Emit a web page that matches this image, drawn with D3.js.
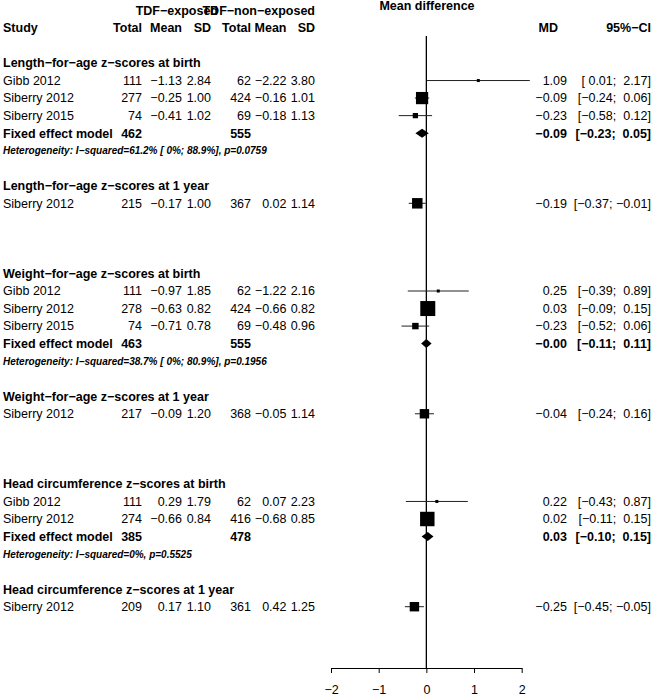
<!DOCTYPE html>
<html><head><meta charset="utf-8">
<script src="https://cdn.jsdelivr.net/npm/d3@7"></script>
<style>
body{margin:0;background:#fff;}
svg text{font-family:"Liberation Sans",Arial,Helvetica,sans-serif;fill:#000;}
</style></head><body>
<svg id="chart" width="653" height="696"></svg>
<script>
const groupTitles = [
  "Length\u2212for\u2212age z\u2212scores at birth",
  "Length\u2212for\u2212age z\u2212scores at 1 year",
  "Weight\u2212for\u2212age z\u2212scores at birth",
  "Weight\u2212for\u2212age z\u2212scores at 1 year",
  "Head circumference z\u2212scores at birth",
  "Head circumference z\u2212scores at 1 year"
];
const studyGroup = [0,0,0,1,2,2,2,3,4,4,5];
const studyNames = ["Gibb 2012","Siberry 2012","Siberry 2015","Siberry 2012","Gibb 2012","Siberry 2012","Siberry 2015","Siberry 2012","Gibb 2012","Siberry 2012","Siberry 2012"];
const expTotal = [111,277,74,215,111,278,74,217,111,274,209];
const expMean  = [-1.13,-0.25,-0.41,-0.17,-0.97,-0.63,-0.71,-0.09,0.29,-0.66,0.17];
const expSD    = [2.84,1.00,1.02,1.00,1.85,0.82,0.78,1.20,1.79,0.84,1.10];
const nonTotal = [62,424,69,367,62,424,69,368,62,416,361];
const nonMean  = [-2.22,-0.16,-0.18,0.02,-1.22,-0.66,-0.48,-0.05,0.07,-0.68,0.42];
const nonSD    = [3.80,1.01,1.13,1.14,2.16,0.82,0.96,1.14,2.23,0.85,1.25];
const studyMD    = [1.09,-0.09,-0.23,-0.19,0.25,0.03,-0.23,-0.04,0.22,0.02,-0.25];
const studyLower = [0.01,-0.24,-0.58,-0.37,-0.39,-0.09,-0.52,-0.24,-0.43,-0.11,-0.45];
const studyUpper = [2.17,0.06,0.12,-0.01,0.89,0.15,0.06,0.16,0.87,0.15,-0.05];
const pooledGroup    = [0,2,4];
const pooledExpTotal = [462,463,385];
const pooledNonTotal = [555,555,478];
const pooledMD    = [-0.09,-0.00,0.03];
const pooledLower = [-0.23,-0.11,-0.10];
const pooledUpper = [0.05,0.11,0.15];
const heterogeneity = [
  "Heterogeneity: I\u2212squared=61.2% [ 0%; 88.9%], p=0.0759",
  "Heterogeneity: I\u2212squared=38.7% [ 0%; 80.9%], p=0.1956",
  "Heterogeneity: I\u2212squared=0%, p=0.5525"
];
const axisTicks = [-2,-1,0,1,2];

const fmt2 = v => ((v < 0 || Object.is(v, -0)) ? "\u2212" : "") + Math.abs(v).toFixed(2);
const pad5 = s => s.padStart(5, " ");
const ciText = (l, u) => "[" + pad5(fmt2(l)) + "; " + pad5(fmt2(u)) + "]";

const svg = d3.select("#chart");
const x = d3.scaleLinear().domain([-2, 2]).range([331, 521.7]);
const y = d3.scaleLinear().domain([0, 31]).range([63, 606.7]);
const boxSize = d3.scaleSqrt().domain([0, 250]).range([0, 15]);

// layout rows
const rows = [];
let r = 0;
groupTitles.forEach((t, g) => {
  rows.push({type: "heading", row: r, g});
  const idx = studyGroup.map((sg, i) => sg === g ? i : -1).filter(i => i >= 0);
  idx.forEach((i, k) => rows.push({type: "study", row: r + 1 + k, i}));
  const p = pooledGroup.indexOf(g);
  if (p >= 0) {
    rows.push({type: "pooled", row: r + 1 + idx.length, p});
    rows.push({type: "het", row: r + 2 + idx.length, p});
  }
  r += idx.length + 4;
});

const col = {study: 3, tot1: 142, mean1: 182, sd1: 211, tot2: 251, mean2: 286.5, sd2: 315, md: 567, ci: 651};
const FS = 12.5;

function txt(xp, yp, s, opts = {}) {
  return svg.append("text").attr("x", xp).attr("y", yp).attr("dy", "0.35em")
    .attr("text-anchor", opts.anchor || "start")
    .attr("font-size", opts.size || FS)
    .attr("font-weight", opts.bold ? "bold" : "normal")
    .attr("font-style", opts.italic ? "italic" : "normal")
    .style("white-space", "pre")
    .text(s);
}

// headers
const yH1 = 10.5, yH2 = 28;
txt(218, yH1, "TDF\u2212exposed", {anchor: "end", bold: true});
txt(315, yH1, "TDF\u2212non\u2212exposed", {anchor: "end", bold: true});
txt(427, 6, "Mean difference", {anchor: "middle", bold: true});
txt(col.study, yH2, "Study", {bold: true});
[["tot1","Total"],["mean1","Mean"],["sd1","SD"],["tot2","Total"],["mean2","Mean"],["sd2","SD"]]
  .forEach(([c, s]) => txt(col[c], yH2, s, {anchor: "end", bold: true}));
txt(558, yH2, "MD", {anchor: "end", bold: true});
txt(col.ci, yH2, "95%\u2212CI", {anchor: "end", bold: true});

// zero line
svg.append("line").attr("x1", x(0)).attr("x2", x(0)).attr("y1", 36).attr("y2", 668)
  .attr("stroke", "#000").attr("stroke-width", 1.3);

rows.forEach(d => {
  const yy = y(d.row);
  if (d.type === "heading") {
    txt(col.study, yy, groupTitles[d.g], {bold: true});
  } else if (d.type === "study") {
    const i = d.i;
    txt(col.study, yy, studyNames[i]);
    txt(col.tot1, yy, String(expTotal[i]), {anchor: "end"});
    txt(col.mean1, yy, fmt2(expMean[i]), {anchor: "end"});
    txt(col.sd1, yy, fmt2(expSD[i]), {anchor: "end"});
    txt(col.tot2, yy, String(nonTotal[i]), {anchor: "end"});
    txt(col.mean2, yy, fmt2(nonMean[i]), {anchor: "end"});
    txt(col.sd2, yy, fmt2(nonSD[i]), {anchor: "end"});
    txt(col.md, yy, fmt2(studyMD[i]), {anchor: "end"});
    txt(col.ci, yy, ciText(studyLower[i], studyUpper[i]), {anchor: "end"});
    // CI whisker
    svg.append("line").attr("x1", x(studyLower[i])).attr("x2", x(studyUpper[i]))
      .attr("y1", yy).attr("y2", yy).attr("stroke", "#222").attr("stroke-width", 1);
    const w = 1 / (expSD[i] * expSD[i] / expTotal[i] + nonSD[i] * nonSD[i] / nonTotal[i]);
    const s = Math.max(3, boxSize(w));
    svg.append("rect").attr("x", x(studyMD[i]) - s / 2).attr("y", yy - s / 2)
      .attr("width", s).attr("height", s).attr("fill", "#000");
  } else if (d.type === "pooled") {
    const p = d.p;
    txt(col.study, yy, "Fixed effect model", {bold: true});
    txt(col.tot1, yy, String(pooledExpTotal[p]), {anchor: "end", bold: true});
    txt(col.tot2, yy, String(pooledNonTotal[p]), {anchor: "end", bold: true});
    txt(col.md, yy, fmt2(pooledMD[p]), {anchor: "end", bold: true});
    txt(col.ci, yy, ciText(pooledLower[p], pooledUpper[p]), {anchor: "end", bold: true});
    const h = 4.5;
    const pts = [[x(pooledLower[p]), yy], [x(pooledMD[p]), yy - h], [x(pooledUpper[p]), yy], [x(pooledMD[p]), yy + h]];
    svg.append("path").attr("d", d3.line()(pts) + "Z").attr("fill", "#000");
  } else if (d.type === "het") {
    txt(col.study, yy, heterogeneity[d.p], {bold: true, italic: true, size: 10});
  }
});

// axis
const axis = d3.axisBottom(x).tickValues(axisTicks).tickSize(5).tickSizeOuter(0).tickPadding(12.5)
  .tickFormat(d => (d < 0 ? "\u2212" : "") + Math.abs(d));
const ag = svg.append("g").attr("transform", "translate(0,668)").call(axis);
ag.select(".domain").attr("stroke", "#000").attr("stroke-width", 1);
ag.selectAll(".tick line").attr("stroke", "#000").attr("stroke-width", 1);
ag.selectAll(".tick text").attr("font-size", FS).attr("font-family", "'Liberation Sans',Arial,sans-serif").attr("fill", "#000");
</script>
</body></html>
